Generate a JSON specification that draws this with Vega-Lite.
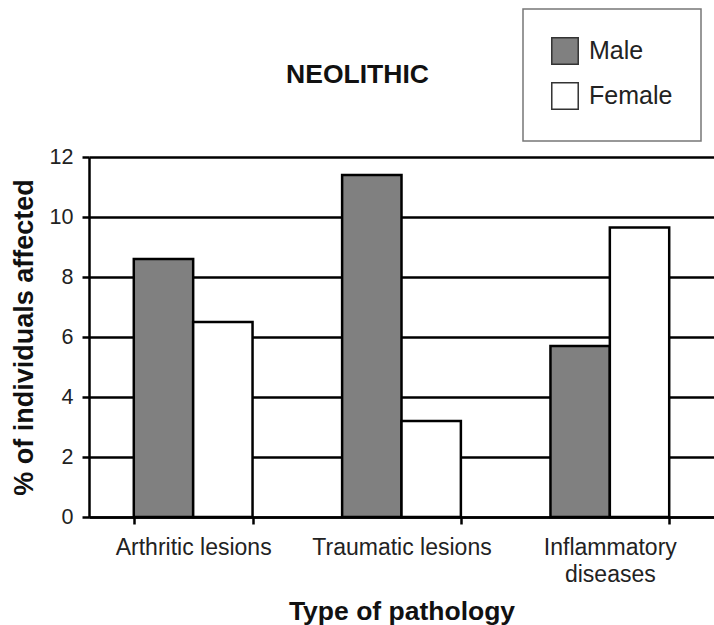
{
  "$schema": "https://vega.github.io/schema/vega-lite/v6.json",
  "autosize": {"type": "none"},
  "padding": {"left": 89, "top": 157, "right": 0, "bottom": 108},
  "width": 625,
  "height": 360,
  "background": "white",
  "title": {
    "text": "NEOLITHIC",
    "fontSize": 26.5,
    "fontWeight": "bold",
    "font": "Liberation Sans",
    "color": "#111",
    "anchor": "middle",
    "dx": -44,
    "offset": 0,
    "dy": 80
  },
  "data": {
    "values": [
      {"pathology": "Arthritic lesions", "sex": "Male", "percent": 8.6},
      {"pathology": "Arthritic lesions", "sex": "Female", "percent": 6.5},
      {"pathology": "Traumatic lesions", "sex": "Male", "percent": 11.4},
      {"pathology": "Traumatic lesions", "sex": "Female", "percent": 3.2},
      {"pathology": "Inflammatory diseases", "sex": "Male", "percent": 5.7},
      {"pathology": "Inflammatory diseases", "sex": "Female", "percent": 9.65}
    ]
  },
  "mark": {"type": "bar", "stroke": "black", "strokeWidth": 2.5, "opacity": 1},
  "encoding": {
    "x": {
      "field": "pathology",
      "type": "nominal",
      "sort": ["Arthritic lesions", "Traumatic lesions", "Inflammatory diseases"],
      "scale": {"paddingInner": 0.43, "paddingOuter": 0.215},
      "axis": {
        "title": "Type of pathology",
        "titleFontSize": 26.5,
        "titleFontWeight": "bold",
        "titlePadding": 12,
        "labelAngle": 0,
        "labelFontSize": 23,
        "labelPadding": 12,
        "labelLineHeight": 27,
        "labelExpr": "datum.value == 'Inflammatory diseases' ? ['Inflammatory', 'diseases'] : datum.value",
        "tickBand": "extent",
        "tickSize": 7,
        "tickWidth": 2.5,
        "tickColor": "black",
        "domainColor": "black",
        "domainWidth": 2.5,
        "grid": false
      }
    },
    "xOffset": {
      "field": "sex",
      "type": "nominal",
      "sort": ["Male", "Female"],
      "scale": {"paddingInner": 0, "paddingOuter": 0}
    },
    "y": {
      "field": "percent",
      "type": "quantitative",
      "scale": {"domain": [0, 12], "nice": false},
      "axis": {
        "title": "% of individuals affected",
        "titleFontSize": 27,
        "titleFontWeight": "bold",
        "titlePadding": 11,
        "values": [0, 2, 4, 6, 8, 10, 12],
        "labelFontSize": 21.5,
        "labelPadding": 9,
        "tickSize": 7,
        "tickWidth": 2.5,
        "tickColor": "black",
        "domainColor": "black",
        "domainWidth": 2.5,
        "grid": true,
        "gridColor": "black",
        "gridWidth": 2.5,
        "gridOpacity": 1
      }
    },
    "color": {
      "field": "sex",
      "type": "nominal",
      "sort": ["Male", "Female"],
      "scale": {"domain": ["Male", "Female"], "range": ["#808080", "#ffffff"]},
      "legend": {
        "title": null,
        "orient": "none",
        "legendX": 434,
        "legendY": -148,
        "padding": 28,
        "strokeColor": "#777",
        "fillColor": "white",
        "symbolType": "square",
        "symbolSize": 700,
        "symbolStrokeColor": "#333",
        "symbolStrokeWidth": 1.5,
        "symbolOpacity": 1,
        "labelFontSize": 25,
        "labelOffset": 10,
        "rowPadding": 11,
        "labelLimit": 300,
        "encode": {"legend": {"update": {"strokeWidth": {"value": 1.5}}}}
      }
    }
  },
  "config": {
    "font": "Liberation Sans",
    "view": {"stroke": null},
    "axis": {"labelColor": "#222", "titleColor": "#111"},
    "legend": {"labelColor": "#222"}
  }
}
